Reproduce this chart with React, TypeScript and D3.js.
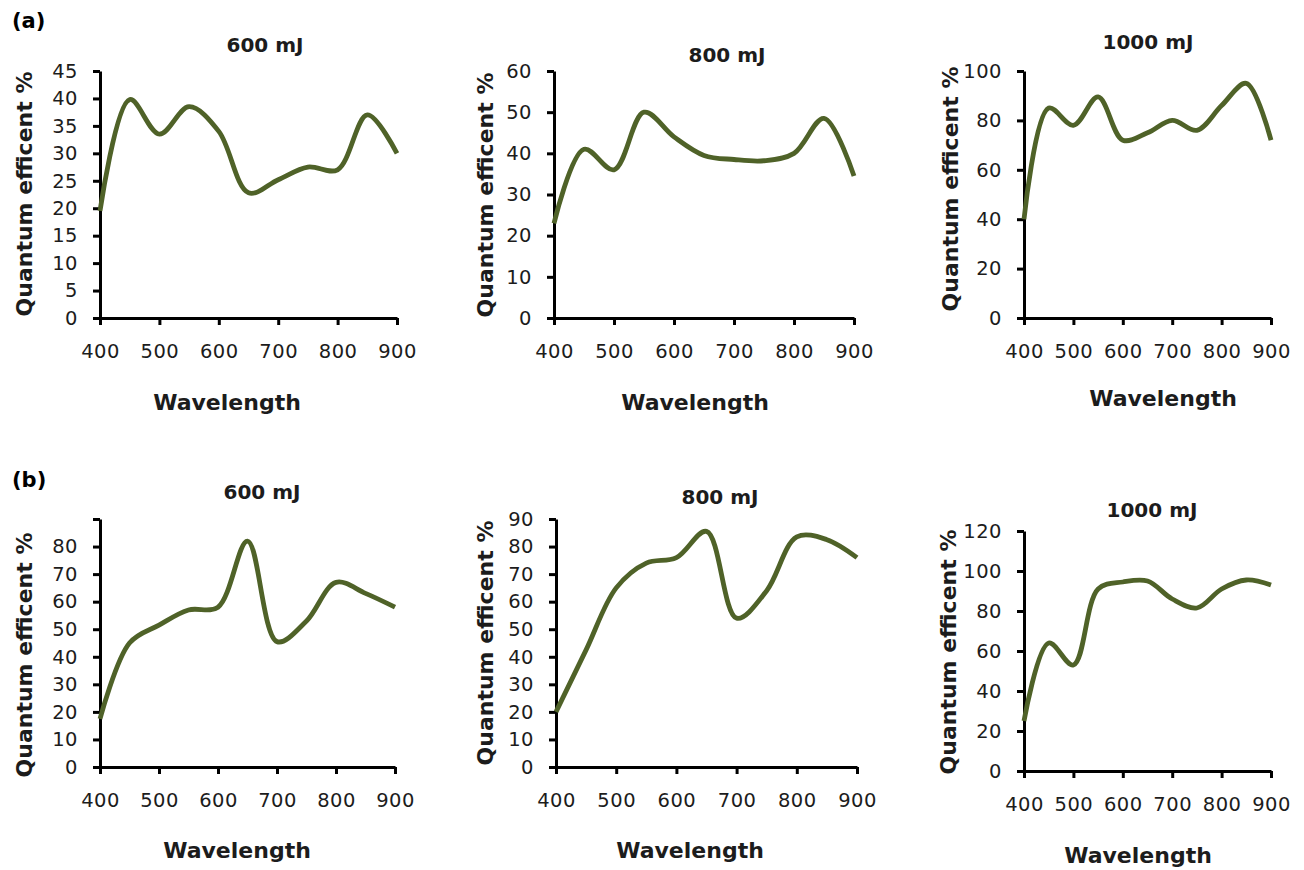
import { useEffect, useRef } from "react";
import * as d3 from "d3";

// wavelengths (nm) shared by every curve
const wavelengths = [400, 450, 500, 550, 600, 650, 700, 750, 800, 850, 900];
const xTicks = [400, 500, 600, 700, 800, 900];

// (a) series
const a600 = [19.5, 39.8, 33.5, 38.5, 34, 22.8, 25.2, 27.5, 27, 37, 30];
const a800 = [23, 41, 36, 50, 44, 39.5, 38.5, 38.2, 40, 48.5, 34.5];
const a1000 = [40, 85, 78, 89.5, 72, 75, 80, 76, 86, 95, 72];

// (b) series
const b600 = [17.5, 45, 51.5, 57, 58, 82, 45.5, 53, 67, 63, 58];
const b800 = [20, 42.5, 65, 74, 76, 85.5, 54, 64, 83.5, 82.5, 76];
const b1000 = [25, 64, 53, 91, 94.5, 95, 86, 81.5, 91, 95.5, 93];

// y ticks and which ones carry a label
const yTicksA600 = [0, 5, 10, 15, 20, 25, 30, 35, 40, 45];
const yTicksA800 = [0, 10, 20, 30, 40, 50, 60];
const yTicksA1000 = [0, 20, 40, 60, 80, 100];
const yTicksB600 = [0, 10, 20, 30, 40, 50, 60, 70, 80, 90];
const yLabelsB600 = [0, 10, 20, 30, 40, 50, 60, 70, 80];
const yTicksB800 = [0, 10, 20, 30, 40, 50, 60, 70, 80, 90];
const yTicksB1000 = [0, 20, 40, 60, 80, 100, 120];

const titles = ["600 mJ", "800 mJ", "1000 mJ", "600 mJ", "800 mJ", "1000 mJ"];

interface IPanel {
  values: number[];
  yTicks: number[];
  yLabels: number[];
  title: string;
  // layout
  left: number;
  right: number;
  top: number;
  bottom: number;
  titleX: number;
  titleY: number;
  xLabelX: number;
  xLabelY: number;
  yLabelX: number;
  yLabelY: number;
}

const panels: IPanel[] = [
  { values: a600, yTicks: yTicksA600, yLabels: yTicksA600, title: titles[0],
    left: 100, right: 397, top: 71, bottom: 318,
    titleX: 265, titleY: 52, xLabelX: 227, xLabelY: 410, yLabelX: 32, yLabelY: 194 },
  { values: a800, yTicks: yTicksA800, yLabels: yTicksA800, title: titles[1],
    left: 554, right: 854, top: 71, bottom: 318,
    titleX: 727, titleY: 62, xLabelX: 695, xLabelY: 410, yLabelX: 493, yLabelY: 195 },
  { values: a1000, yTicks: yTicksA1000, yLabels: yTicksA1000, title: titles[2],
    left: 1024, right: 1271, top: 71, bottom: 318,
    titleX: 1148, titleY: 49, xLabelX: 1163, xLabelY: 406, yLabelX: 958, yLabelY: 189 },
  { values: b600, yTicks: yTicksB600, yLabels: yLabelsB600, title: titles[3],
    left: 100, right: 395, top: 519, bottom: 767,
    titleX: 262, titleY: 499, xLabelX: 237, xLabelY: 858, yLabelX: 32, yLabelY: 655 },
  { values: b800, yTicks: yTicksB800, yLabels: yTicksB800, title: titles[4],
    left: 556, right: 857, top: 519, bottom: 767,
    titleX: 720, titleY: 504, xLabelX: 690, xLabelY: 858, yLabelX: 493, yLabelY: 643 },
  { values: b1000, yTicks: yTicksB1000, yLabels: yTicksB1000, title: titles[5],
    left: 1024, right: 1271, top: 531, bottom: 771,
    titleX: 1152, titleY: 517, xLabelX: 1138, xLabelY: 863, yLabelX: 956, yLabelY: 652 },
];

const LINE_COLOR = "#4f6228";
const TEXT_COLOR = "#1c1c1c";
const TICK_FONT = "'DejaVu Sans', sans-serif";
const BOLD_FONT = "'DejaVu Sans', sans-serif";

function App() {
  const ref = useRef<SVGSVGElement | null>(null);

  useEffect(() => {
    const svg = d3.select(ref.current);
    svg.selectAll("*").remove();

    svg
      .append("text")
      .attr("x", 12)
      .attr("y", 28)
      .attr("font-family", BOLD_FONT)
      .attr("font-weight", "bold")
      .attr("font-size", 21)
      .text("(a)");
    svg
      .append("text")
      .attr("x", 12)
      .attr("y", 487)
      .attr("font-family", BOLD_FONT)
      .attr("font-weight", "bold")
      .attr("font-size", 21)
      .text("(b)");

    panels.forEach((p) => {
      const xScale = d3.scaleLinear().domain([400, 900]).range([p.left, p.right]);
      const yMax = d3.max(p.yTicks) as number;
      const yScale = d3.scaleLinear().domain([0, yMax]).range([p.bottom, p.top]);

      const g = svg.append("g");

      // x axis
      const xAxis = g
        .append("g")
        .attr("transform", `translate(0, ${p.bottom})`)
        .call(
          d3
            .axisBottom(xScale)
            .tickValues(xTicks)
            .tickSize(7)
            .tickPadding(19)
            .tickSizeOuter(0)
        );
      // y axis
      const yAxis = g
        .append("g")
        .attr("transform", `translate(${p.left}, 0)`)
        .call(
          d3
            .axisLeft(yScale)
            .tickValues(p.yTicks)
            .tickSize(7)
            .tickPadding(15)
            .tickSizeOuter(0)
            .tickFormat((d) => (p.yLabels.includes(d as number) ? String(d) : ""))
        );

      [xAxis, yAxis].forEach((ax) => {
        ax.select(".domain").attr("stroke", "#000").attr("stroke-width", 3);
        ax.selectAll(".tick line").attr("stroke", "#000").attr("stroke-width", 3);
        ax.selectAll(".tick text")
          .attr("fill", TEXT_COLOR)
          .attr("font-family", TICK_FONT)
          .attr("font-size", 19.5)
          .attr("letter-spacing", 0.5);
      });

      const line = d3
        .line<number>()
        .x((d, i) => xScale(wavelengths[i]))
        .y((d) => yScale(d))
        .curve(d3.curveCatmullRom.alpha(0.5));

      g.append("path")
        .datum(p.values)
        .attr("fill", "none")
        .attr("stroke", LINE_COLOR)
        .attr("stroke-width", 4.8)
        .attr("stroke-linejoin", "round")
        .attr("d", line);

      g.append("text")
        .attr("x", p.titleX)
        .attr("y", p.titleY)
        .attr("text-anchor", "middle")
        .attr("font-family", BOLD_FONT)
        .attr("font-weight", "bold")
        .attr("font-size", 20)
        .attr("fill", TEXT_COLOR)
        .text(p.title);

      g.append("text")
        .attr("x", p.xLabelX)
        .attr("y", p.xLabelY)
        .attr("text-anchor", "middle")
        .attr("font-family", BOLD_FONT)
        .attr("font-weight", "bold")
        .attr("font-size", 22)
        .attr("fill", TEXT_COLOR)
        .text("Wavelength");

      g.append("text")
        .attr("transform", `translate(${p.yLabelX}, ${p.yLabelY}) rotate(-90)`)
        .attr("text-anchor", "middle")
        .attr("font-family", BOLD_FONT)
        .attr("font-weight", "bold")
        .attr("font-size", 22)
        .attr("fill", TEXT_COLOR)
        .text("Quantum efficent %");
    });
  }, []);

  return (
    <svg
      ref={ref}
      width={1304}
      height={870}
      style={{ position: "absolute", left: 0, top: 0, background: "#fff" }}
    ></svg>
  );
}

export default App;
